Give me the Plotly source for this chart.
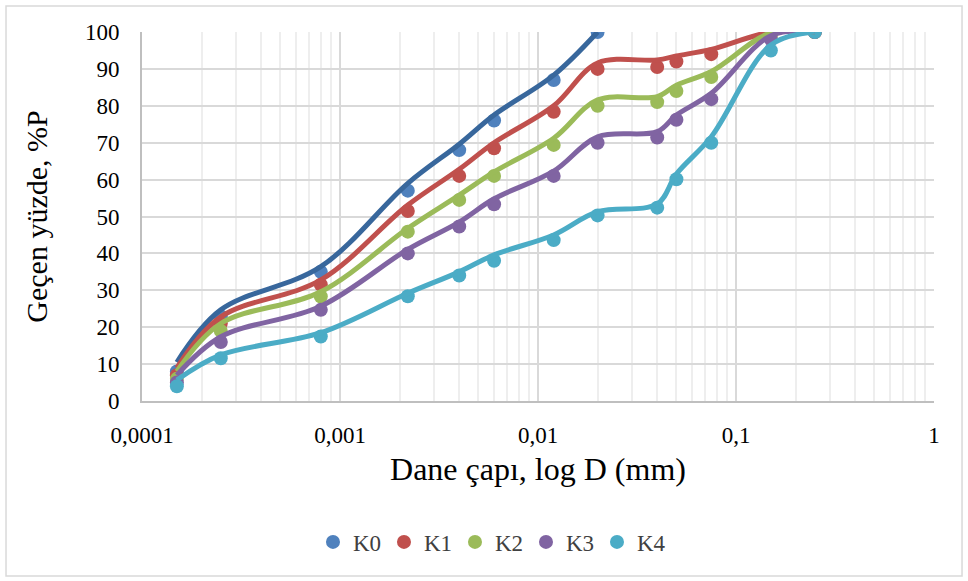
import plotly.graph_objects as go

# grain diameters (mm)
d_all = [0.00015, 0.00025, 0.0008, 0.0022, 0.004, 0.006, 0.012, 0.02, 0.04, 0.05, 0.075, 0.15, 0.25]
d_k0 = [0.00015, 0.00025, 0.0008, 0.0022, 0.004, 0.006, 0.012, 0.02]

# measured points (% passing)
k0 = [8, 23, 35, 57, 68, 76, 87, 100]
k1 = [7, 21, 31.5, 51.5, 61, 68.5, 78.4, 90, 90.5, 92, 94, 99.5, 100]
k2 = [6, 19, 28.3, 45.9, 54.5, 61, 69.4, 80, 81, 84, 87.8, 99, 100]
k3 = [5, 16, 24.7, 40, 47.3, 53.3, 61, 70, 71.4, 76.2, 81.8, 98, 100]
k4 = [4, 11.6, 17.5, 28.4, 34, 38, 43.6, 50.3, 52.4, 60.1, 70, 95, 100]

# smoothed curve values as drawn in the chart
k0_curve = [10.5, 24.7, 36.4, 59, 69.6, 77.5, 88.3, 100]
k1_curve = [9, 22.8, 32.8, 53.1, 62.8, 70, 80, 91.6, 92.4, 93.5, 95.3, 100, 100]
k2_curve = [8, 21, 29.6, 46.8, 55.8, 62.1, 71.2, 81.6, 82.5, 85.6, 89.3, 99.8, 100]
k3_curve = [7, 17.4, 25.7, 41.1, 48.5, 54.8, 62.3, 71.6, 73, 77.5, 83.4, 99, 100]
k4_curve = [5.7, 12.5, 18.5, 29.2, 35, 39.6, 45, 51.3, 53.4, 61.5, 71.6, 96.5, 100]

names = ["K0", "K1", "K2", "K3", "K4"]
xs = [d_k0, d_all, d_all, d_all, d_all]
ys = [k0, k1, k2, k3, k4]
curves = [k0_curve, k1_curve, k2_curve, k3_curve, k4_curve]
mcolors = ["#4F81BD", "#C0504D", "#9BBB59", "#8064A2", "#4BACC6"]
lcolors = ["#38679C", "#C0504D", "#9BBB59", "#8064A2", "#4BACC6"]

x_ticks = [0.0001, 0.001, 0.01, 0.1, 1]
x_ticktext = ["0,0001", "0,001", "0,01", "0,1", "1"]
y_ticks = list(range(0, 101, 10))

minor_vals = [m * 10 ** e for e in range(-4, 0) for m in range(2, 10)]

fig = go.Figure()
for n, x, y, c in zip(names, xs, ys, mcolors):
    fig.add_trace(go.Scatter(x=x, y=y, mode="markers", name=n,
                             marker=dict(color=c, size=14), showlegend=True))
for n, x, y, c in zip(names, xs, curves, lcolors):
    fig.add_trace(go.Scatter(x=x, y=y, mode="lines", name=n, showlegend=False,
                             line=dict(color=c, width=5, shape="spline", smoothing=1.0)))

font_main = "Liberation Serif, Times New Roman, serif"
fig.update_layout(
    width=968, height=581,
    margin=dict(l=142, r=34, t=32, b=180),
    paper_bgcolor="white", plot_bgcolor="white",
    font=dict(family=font_main, color="#000000"),
    showlegend=True,
    legend=dict(orientation="h", x=0.44, xanchor="center", y=-0.382, yanchor="middle",
                font=dict(size=23, family=font_main, color="#404040"), itemwidth=30, entrywidth=26,
                entrywidthmode="pixels", tracegroupgap=0, itemclick=False),
    xaxis=dict(type="log", range=[-4, 0], tickvals=x_ticks, ticktext=x_ticktext,
               showgrid=True, gridcolor="#D9D9D9", gridwidth=2,
               minor=dict(tickvals=minor_vals, showgrid=True, gridcolor="#EEEEEE", gridwidth=2, ticks=""),
               showline=True, linecolor="#BFBFBF", linewidth=2, ticks="",
               tickfont=dict(size=23, color="#000000"), ticklabelstandoff=12,
               title=dict(text="Dane çapı, log D (mm)", font=dict(size=32), standoff=11),
               zeroline=False),
    yaxis=dict(range=[0, 100], tickvals=y_ticks, showgrid=True, gridcolor="#D9D9D9", gridwidth=2,
               showline=True, linecolor="#BFBFBF", linewidth=2, ticks="",
               tickfont=dict(size=23, color="#000000"), ticklabelstandoff=16,
               title=dict(text="Geçen yüzde, %P", font=dict(size=30), standoff=28),
               zeroline=False),
    shapes=[dict(type="rect", xref="paper", yref="paper", x0=-0.1717, x1=1.0354, y0=-0.474, y1=1.0705,
                 line=dict(color="#D9D9D9", width=1.5), fillcolor="rgba(0,0,0,0)", layer="below")],
)

fig.write_html("out.html")
